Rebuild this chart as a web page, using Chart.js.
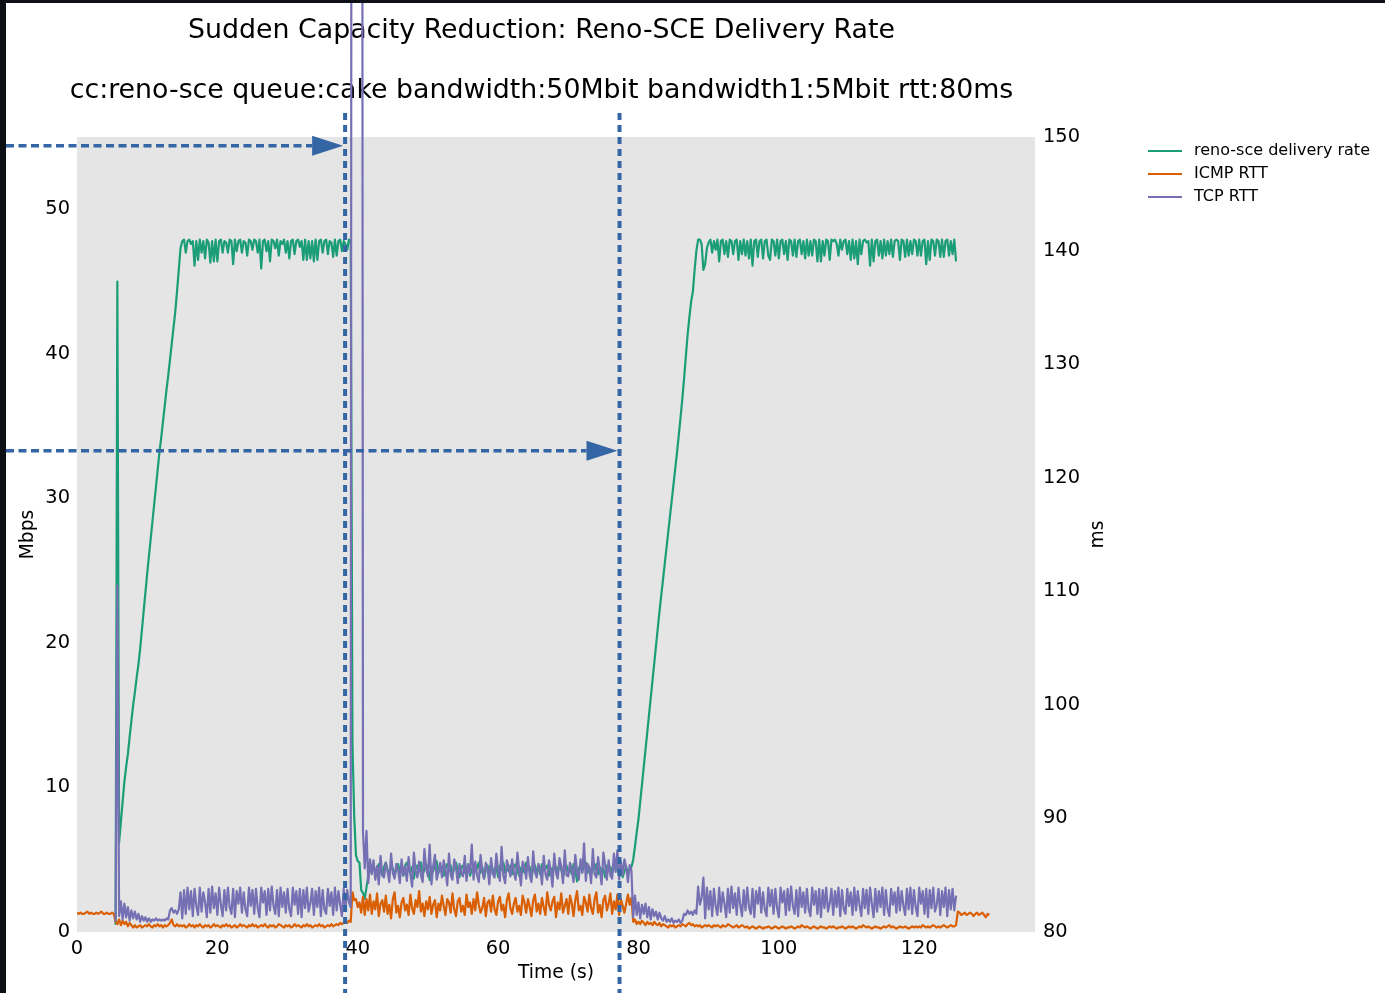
<!DOCTYPE html>
<html>
<head>
<meta charset="utf-8">
<title>Reno-SCE Delivery Rate</title>
<script src="https://cdn.jsdelivr.net/npm/chart.js@4.4.1/dist/chart.umd.min.js"></script>
<style>
  html, body { margin: 0; padding: 0; background: #0d1115; overflow: hidden; }
  #wrap { position: absolute; left: 6px; top: 3px; width: 1379px; height: 990px; background: #fff; }
  canvas { display: block; }
</style>
</head>
<body>
<div id="wrap"><canvas id="rateChart" width="1379" height="990" style="width:1379px;height:990px"></canvas></div>
<script>
// samples every 0.25 s
const STEP = 0.25

// reno-sce delivery rate (Mbps), first sample at 5.5 s
const rateStart = 5.5
const deliveryRate = [
  0.5, 45.0, 6.2, 7.6, 9.0, 10.4, 11.4, 12.3, 13.5, 14.6, 15.7, 16.6, 17.6, 18.5, 19.6, 20.9, 22.2, 23.5, 24.8, 26.0,
  27.2, 28.4, 29.6, 30.8, 32.0, 33.2, 34.2, 35.3, 36.4, 37.5, 38.5, 39.6, 40.7, 41.8, 42.9, 44.3, 45.8, 47.3, 47.8, 47.9,
  // 15.5 s
  47.0, 47.8, 47.9, 47.6, 47.8, 46.1, 47.8, 46.5, 47.9, 47.0, 47.8, 46.6, 47.9, 47.7, 46.3, 47.8, 46.4, 47.9, 46.4, 47.8,
  47.9, 47.0, 47.8, 47.7, 47.0, 47.9, 47.8, 46.2, 47.9, 47.1, 47.8, 47.9, 47.0, 47.8, 47.7, 46.8, 47.9, 47.8, 47.2, 47.9,
  47.8, 47.0, 47.9, 45.9, 47.8, 47.9, 47.1, 47.8, 46.4, 47.9, 47.8, 47.3, 47.9, 46.8, 47.8, 47.6, 47.9, 47.0, 47.8, 46.6,
  47.8, 47.9, 46.9, 47.8, 47.9, 47.4, 47.8, 46.5, 47.9, 46.5, 47.8, 46.6, 47.8, 46.4, 47.9, 46.5, 47.8, 47.9, 47.0, 47.8,
  47.9, 46.9, 47.8, 47.7, 46.7, 47.9, 46.8, 47.8, 47.9, 47.1, 47.8, 47.6, 47.2, 47.9, 47.8,
  // 39.25 s, link drops to 5 Mbit
  13.0, 8.0, 5.3, 4.9, 4.8, 2.9, 2.7, 2.3, 3.1, 3.9, 4.2,
  // 42 s
  4.3, 4.6, 4.1, 4.4, 4.7, 4.2, 3.9, 4.5, 4.8, 4.3, 4.0, 4.6, 4.4, 3.8, 4.5, 4.7, 4.2, 4.4, 3.9, 4.6,
  4.8, 4.3, 4.1, 4.5, 3.7, 4.4, 4.6, 4.2, 4.8, 4.0, 4.3, 4.7, 4.4, 3.6, 4.5, 4.2, 4.6, 4.9, 4.1, 4.3,
  4.5, 3.9, 4.4, 4.7, 4.2, 4.6, 4.0, 4.4, 4.8, 4.3, 3.8, 4.5, 4.6, 4.1, 4.4, 4.7, 3.9, 4.3, 4.6, 4.2,
  4.4, 4.8, 4.1, 4.5, 3.7, 4.3, 4.6, 4.2, 4.7, 4.0, 4.4, 4.5, 3.8, 4.6, 4.3, 4.8, 4.1, 4.4, 4.2, 4.6,
  4.0, 4.5, 4.7, 4.3, 3.9, 4.4, 4.6, 4.1, 4.8, 4.3, 4.5, 3.7, 4.4, 4.6, 4.2, 4.5, 4.0, 4.7, 4.3, 4.4,
  4.6, 3.9, 4.4, 4.2, 4.7, 4.5, 4.1, 4.8, 4.3, 3.8, 4.5, 4.6, 4.2, 4.4, 4.0, 4.7, 4.3, 3.5, 4.4, 4.6,
  4.2, 4.5, 4.8, 4.1, 4.4, 3.9, 4.6, 4.3, 4.7, 4.0, 4.5, 4.2, 4.4, 3.8, 4.6, 4.3, 4.5, 4.1, 4.4, 4.7,
  4.3, 4.0, 4.4, 3.8, 4.2, 4.5, 4.1, 4.3, 4.5,
  // 79.25 s, back to 50 Mbit
  5.0, 5.9, 6.9, 7.8, 9.0, 10.2, 11.4, 12.6, 13.8, 15.0, 16.2, 17.4, 18.6, 19.8, 21.0, 22.2, 23.3, 24.4, 25.5, 26.6,
  27.7, 28.8, 29.9, 31.0, 32.1, 33.2, 34.4, 35.6, 36.9, 38.3, 39.8, 41.3, 42.5, 43.6, 44.3, 45.8, 47.1, 47.9, 47.9, 47.6,
  45.8, 46.2, 47.3, 47.7,
  // 90.25 s
  47.9, 47.0, 47.8, 47.2, 47.9, 46.4, 47.8, 47.9, 46.9, 47.8, 46.7, 47.9, 47.8, 46.9, 47.8, 47.9, 46.5, 47.8, 46.9, 47.9,
  46.8, 47.8, 46.6, 47.9, 46.1, 47.8, 47.9, 46.7, 47.8, 47.9, 46.6, 47.8, 47.9, 46.8, 46.5, 47.9, 47.8, 46.8, 47.9, 46.6,
  47.8, 47.9, 46.9, 47.8, 46.5, 47.9, 47.8, 46.8, 47.9, 46.7, 47.8, 47.9, 46.9, 47.8, 46.6, 47.9, 46.8, 47.8, 46.8, 47.9,
  47.8, 46.4, 47.9, 46.4, 47.8, 46.8, 47.9, 47.8, 46.5, 47.9, 47.8, 47.9, 47.6, 46.8, 47.9, 47.2, 47.8, 47.9, 46.9, 47.8,
  46.5, 47.9, 46.6, 47.8, 46.2, 47.9, 46.9, 47.8, 47.9, 47.7, 47.8, 46.1, 47.9, 46.4, 47.8, 47.9, 46.8, 47.8, 46.6, 47.9,
  46.8, 47.8, 46.9, 47.9, 46.7, 47.8, 47.9, 47.8, 46.5, 47.9, 47.8, 46.7, 47.9, 46.8, 47.8, 46.9, 47.9, 47.8, 46.8, 47.9,
  46.8, 47.8, 47.9, 46.2, 47.8, 46.5, 47.9, 47.8, 46.8, 47.9, 47.8, 46.7, 47.9, 46.7, 47.8, 47.9, 46.8, 47.8, 46.9, 47.9,
  46.4
]

// TCP RTT (ms), first sample at 5.5 s
const tcpStart = 5.5
const tcpRtt = [
  80.9, 110.5, 81.4, 82.7, 81.1, 82.5, 81.3, 82.2, 81.0, 81.9, 81.2, 81.8, 81.1, 81.6, 80.9, 81.4, 81.0, 81.3, 80.9, 81.2,
  80.9, 81.1, 81.0, 81.2, 81.0, 81.1, 81.0, 81.1, 81.0, 81.2, 81.1, 81.9, 82.1, 81.7, 81.9, 81.6, 82.0, 83.5, 81.2, 83.7,
  // 15.5 s
  81.6, 83.9, 82.0, 83.6, 81.4, 83.8, 82.3, 81.5, 83.9, 81.8, 83.5, 82.6, 81.3, 83.8, 81.7, 84.0, 82.1, 83.4, 81.5, 83.9,
  82.4, 81.4, 83.7, 81.9, 83.9, 82.2, 81.6, 83.8, 81.3, 83.6, 82.5, 83.9, 81.7, 83.5, 82.0, 81.4, 83.9, 82.3, 83.7, 81.6,
  83.8, 82.1, 81.3, 83.9, 82.6, 83.6, 81.5, 83.8, 81.9, 84.0, 82.3, 81.6, 83.7, 81.4, 83.9, 82.2, 83.5, 81.7, 83.8, 82.0,
  81.4, 83.9, 82.4, 83.6, 81.6, 83.8, 81.3, 83.7, 82.1, 83.9, 81.8, 82.5, 83.8, 81.5, 83.6, 82.2, 83.9, 81.4, 83.7, 82.0,
  81.6, 83.8, 82.3, 83.5, 81.5, 83.9, 81.9, 83.6, 82.4, 81.4, 83.8, 82.1, 83.7, 82.6, 82.2,
  // 39.25 s, queue fills after the drop
  320, 330, 335, 330, 320, 310, 88.8, 85.6, 88.9, 84.3, 86.4,
  // 42 s
  85.1, 86.3, 84.6, 85.8, 84.2, 86.7, 85.0, 84.8, 86.1, 85.3, 84.4, 86.9, 85.2, 84.7, 86.0, 85.5, 84.3, 86.4, 85.0, 85.8,
  84.5, 86.6, 85.1, 84.0, 87.0, 85.4, 84.8, 86.2, 85.0, 84.4, 87.3, 85.6, 84.9, 87.7, 84.2, 85.8, 86.8, 84.6, 85.3, 86.1,
  84.8, 86.3, 85.5, 84.1, 86.9, 85.0, 84.6, 86.4, 85.7, 84.3, 86.0, 85.2, 84.9, 86.7, 84.5, 85.9, 85.2, 87.7, 84.6, 86.2,
  85.0, 84.4, 86.8, 85.3, 84.7, 86.1, 85.6, 84.2, 86.5, 85.1, 84.8, 86.9, 85.4, 84.5, 87.5, 85.0, 84.3, 86.3, 85.7, 84.9,
  86.4, 85.2, 84.6, 87.0, 85.5, 84.1, 86.2, 85.8, 84.7, 86.6, 85.0, 84.4, 87.1, 85.3, 84.8, 86.0, 85.6, 84.2, 86.7, 85.1,
  84.6, 86.3, 85.4, 84.0, 86.9, 85.2, 84.7, 86.5, 85.8, 84.3, 87.2, 85.0, 84.9, 86.1, 85.5, 84.4, 86.8, 85.3, 84.6, 86.4,
  85.2, 87.8, 84.5, 86.0, 85.7, 84.3, 87.3, 85.1, 84.8, 86.6, 85.4, 84.2, 87.0, 85.9, 84.6, 86.3, 85.0, 84.7, 86.9, 85.3,
  87.2, 84.6, 86.2, 85.0, 86.4, 85.7, 84.4, 85.9, 85.4,
  // 79.25 s
  81.3, 83.2, 81.5, 82.6, 81.2, 82.4, 81.6, 82.5, 81.3, 82.2, 81.1, 82.0, 81.4, 81.8, 81.1, 81.7, 81.2, 81.0, 81.4, 80.9,
  81.1, 80.9, 81.2, 80.8, 81.0, 80.9, 81.1, 80.8, 81.0, 81.6, 81.5, 81.9, 81.6, 81.8, 81.5, 81.9, 81.6, 84.0, 82.4, 83.0,
  // 89.25 s
  84.8, 81.2, 83.9, 82.0, 83.6, 81.4, 83.8, 82.3, 81.5, 83.9, 81.8, 83.5, 82.5, 81.3, 83.8, 81.7, 84.0, 82.1, 83.4, 81.5,
  83.9, 82.4, 81.4, 83.7, 81.9, 83.9, 82.2, 81.6, 83.8, 81.3, 83.6, 82.5, 83.9, 81.7, 83.5, 82.0, 81.4, 83.9, 82.3, 83.7,
  81.6, 83.8, 82.1, 81.3, 83.9, 82.6, 83.6, 81.5, 83.8, 81.9, 84.0, 82.3, 81.6, 83.7, 81.4, 83.9, 82.2, 83.5, 81.7, 83.8,
  82.0, 81.4, 83.9, 82.4, 83.6, 81.6, 83.8, 81.3, 83.7, 82.1, 83.9, 81.8, 82.5, 83.8, 81.5, 83.6, 82.2, 83.9, 81.4, 83.7,
  82.0, 81.6, 83.8, 82.3, 83.5, 81.5, 83.9, 81.9, 83.6, 82.4, 81.4, 83.8, 82.1, 83.7, 81.6, 83.9, 82.5, 81.3, 83.8, 81.8,
  83.6, 82.2, 83.9, 81.5, 83.7, 82.0, 81.4, 83.8, 82.4, 83.5, 81.7, 83.9, 81.9, 83.6, 82.3, 81.5, 83.8, 82.0, 83.9, 81.6,
  83.7, 82.2, 81.4, 83.9, 82.5, 83.6, 81.6, 83.8, 81.3, 83.7, 82.1, 83.9, 81.8, 82.4, 83.8, 81.5, 83.6, 82.2, 83.9, 81.4,
  83.7, 82.0, 83.8, 81.9, 83.2
]

// ICMP RTT (ms), first sample at 0 s
const icmpStart = 0
const icmpRtt = [
  81.7, 81.6, 81.7, 81.6, 81.6, 81.7, 81.8, 81.6, 81.7, 81.6, 81.6, 81.7, 81.6, 81.7, 81.8, 81.6, 81.6, 81.7, 81.6, 81.6,
  81.7, 81.6, 80.9, 80.7, 81.1, 80.6, 81.0, 80.7, 80.9, 80.5, 80.8, 80.6, 80.4, 80.6, 80.4, 80.5, 80.6, 80.4, 80.5, 80.6,
  80.5, 80.7, 80.5, 80.4, 80.6, 80.5, 80.7, 80.5, 80.6, 80.4, 80.6, 80.5, 80.6, 80.8, 81.1, 80.6, 80.5, 80.7, 80.5, 80.6,
  80.5, 80.6, 80.4, 80.5, 80.7, 80.5, 80.6, 80.4, 80.6, 80.5, 80.7, 80.5, 80.4, 80.6, 80.5, 80.6, 80.4, 80.5, 80.7, 80.5,
  80.6, 80.5, 80.4, 80.6, 80.5, 80.7, 80.5, 80.6, 80.4, 80.5, 80.6, 80.4, 80.5, 80.7, 80.5, 80.6, 80.5, 80.4, 80.6, 80.5,
  80.7, 80.5, 80.6, 80.4, 80.5, 80.6, 80.5, 80.7, 80.5, 80.4, 80.6, 80.5, 80.6, 80.4, 80.5, 80.7, 80.6, 80.5, 80.4, 80.6,
  80.5, 80.6, 80.4, 80.5, 80.7, 80.5, 80.6, 80.5, 80.4, 80.6, 80.5, 80.7, 80.5, 80.6, 80.4, 80.5, 80.6, 80.5, 80.7, 80.5,
  80.6, 80.4, 80.5, 80.6, 80.5, 80.7, 80.5, 80.6, 80.7, 80.6, 80.8, 80.7, 80.8, 80.9, 80.8, 81.0, 80.9, 83.5, 82.8, 82.9,
  // 40 s
  82.2, 82.6, 81.7, 83.1, 81.5, 82.9, 81.9, 83.3, 81.6, 82.7, 82.0, 83.4, 81.4, 82.5, 82.8, 81.8, 83.2, 81.6, 82.4, 81.2,
  82.9, 83.5, 81.7, 82.3, 81.3, 82.6, 83.0, 81.9, 82.4, 81.5, 83.3, 82.1, 81.6, 82.8, 82.2, 83.6, 81.8, 82.5, 81.4, 82.7,
  82.0, 83.1, 81.6, 82.4, 82.8, 81.3, 82.5, 81.9, 83.2, 82.3, 81.5, 82.9, 82.6, 81.7, 83.4, 82.0, 81.4, 82.7, 83.0, 81.8,
  82.3, 81.5, 83.3, 82.2, 82.6, 81.6, 82.9, 81.9, 83.5, 82.4, 81.7, 82.1, 83.0, 81.4, 82.6, 82.8, 81.8, 83.2, 82.0, 81.5,
  82.7, 83.1, 81.9, 82.4, 81.3, 82.8, 83.4, 82.1, 81.6, 82.5, 83.0, 81.8, 82.3, 81.5, 83.2, 82.6, 81.7, 82.9, 82.2, 81.4,
  82.8, 83.3, 81.8, 82.5, 81.6, 83.0, 82.2, 81.5, 83.5, 82.4, 81.9, 82.7, 83.1, 81.3, 82.6, 82.0, 83.4, 81.7, 82.3, 82.9,
  81.6, 83.2, 82.5, 81.4, 82.8, 83.6, 81.9, 82.3, 81.5, 83.1, 82.6, 81.8, 83.3, 82.1, 81.6, 82.9, 83.5, 81.7, 82.4, 81.3,
  82.8, 83.2, 81.9, 82.5, 83.4, 81.6, 82.7, 82.0, 83.3, 81.5, 82.9, 82.3, 81.7, 82.5, 83.3, 82.4, 83.0, 80.9, 81.1, 80.7,
  // 80 s
  80.9, 80.7, 81.0, 80.8, 80.6, 80.9, 80.7, 80.8, 80.6, 80.9, 80.7, 80.6, 80.8, 80.5, 80.7, 80.6, 80.5, 80.4, 80.6, 80.5,
  80.6, 80.4, 80.5, 80.6, 80.5, 80.7, 80.6, 80.5, 80.7, 80.8, 80.6, 80.7, 80.5, 80.6, 80.5, 80.6, 80.4, 80.5, 80.6, 80.5,
  80.6, 80.5, 80.4, 80.6, 80.5, 80.6, 80.5, 80.4, 80.6, 80.5, 80.5, 80.7, 80.6, 80.5, 80.4, 80.5, 80.6, 80.4, 80.5, 80.6,
  80.5, 80.4, 80.5, 80.3, 80.4, 80.5, 80.4, 80.3, 80.4, 80.5, 80.4, 80.3, 80.4, 80.4, 80.5, 80.4, 80.3, 80.4, 80.5, 80.4,
  80.3, 80.4, 80.5, 80.4, 80.3, 80.4, 80.4, 80.5, 80.4, 80.3, 80.4, 80.5, 80.4, 80.6, 80.5, 80.4, 80.5, 80.4, 80.3, 80.4,
  80.5, 80.4, 80.3, 80.4, 80.5, 80.4, 80.4, 80.3, 80.4, 80.5, 80.4, 80.5, 80.4, 80.3, 80.4, 80.4, 80.5, 80.4, 80.3, 80.4,
  80.5, 80.4, 80.5, 80.4, 80.3, 80.4, 80.5, 80.4, 80.6, 80.5, 80.4, 80.5, 80.4, 80.3, 80.4, 80.5, 80.4, 80.4, 80.3, 80.4,
  80.5, 80.4, 80.5, 80.6, 80.4, 80.5, 80.4, 80.3, 80.4, 80.5, 80.4, 80.4, 80.5, 80.4, 80.3, 80.4, 80.5, 80.4, 80.5, 80.4,
  80.5, 80.4, 80.6, 80.5, 80.4, 80.5, 80.4, 80.5, 80.6, 80.5, 80.4, 80.5, 80.4, 80.5, 80.6, 80.5, 80.4, 80.5, 80.6, 80.5,
  // 125 s, flow ends
  80.5, 80.6, 81.8, 81.7, 81.5, 81.6, 81.7, 81.5, 81.6, 81.7, 81.6, 81.4, 81.6, 81.7, 81.5, 81.6, 81.7, 81.5, 81.3, 81.6,
  81.5
]

// capacity change markers (s) and the Mbps level each arrow is drawn at
const markerTimes = [38.2, 77.3]
const arrowLevels = [54.4, 33.3]

const seriesNames = ['reno-sce delivery rate', 'ICMP RTT', 'TCP RTT']
const seriesColors = ['#1b9e77', '#d95f02', '#7570b3']
const titleLines = [
  'Sudden Capacity Reduction: Reno-SCE Delivery Rate',
  'cc:reno-sce queue:cake bandwidth:50Mbit bandwidth1:5Mbit rtt:80ms'
]

const FONT = '"DejaVu Sans", Verdana, sans-serif'
const tickFont = { family: FONT, size: 19.4 }

function toPoints(start, values) {
  return values.map((v, i) => ({ x: start + i * STEP, y: v }))
}

const plotBackground = {
  id: 'plotBackground',
  beforeDraw(chart) {
    const { ctx, chartArea: a } = chart
    ctx.save()
    ctx.fillStyle = '#ffffff'
    ctx.fillRect(0, 0, chart.width, chart.height)
    ctx.fillStyle = '#e5e5e5'
    ctx.fillRect(a.left, a.top, a.right - a.left, a.bottom - a.top)
    ctx.restore()
  }
}

// titles, axis names and the legend
const labelText = {
  id: 'labelText',
  beforeDatasetsDraw(chart) {
    const { ctx, chartArea: a } = chart
    ctx.save()
    ctx.fillStyle = '#000'
    ctx.textAlign = 'center'
    ctx.textBaseline = 'middle'
    ctx.font = '26.8px ' + FONT
    ctx.fillText(titleLines[0], 535.5, 28)
    ctx.fillText(titleLines[1], 535.5, 88)

    ctx.font = '18.7px ' + FONT
    ctx.fillText('Time (s)', (a.left + a.right) / 2, a.bottom + 41)
    ctx.save()
    ctx.translate(22, (a.top + a.bottom) / 2)
    ctx.rotate(-Math.PI / 2)
    ctx.fillText('Mbps', 0, 0)
    ctx.restore()
    ctx.save()
    ctx.translate(a.right + 63, (a.top + a.bottom) / 2)
    ctx.rotate(-Math.PI / 2)
    ctx.fillText('ms', 0, 0)
    ctx.restore()

    ctx.font = '16px ' + FONT
    ctx.textAlign = 'left'
    seriesNames.forEach((name, i) => {
      const y = 148 + i * 23
      ctx.strokeStyle = seriesColors[i]
      ctx.lineWidth = 2
      ctx.beginPath()
      ctx.moveTo(1142, y)
      ctx.lineTo(1176, y)
      ctx.stroke()
      ctx.fillText(name, 1188, y)
    })
    ctx.restore()
  }
}

// dashed marker lines and arrows
const markers = {
  id: 'markers',
  afterDatasetsDraw(chart) {
    const { ctx } = chart
    const xs = chart.scales.x
    const ys = chart.scales.y
    ctx.save()
    ctx.strokeStyle = '#3465a4'
    ctx.fillStyle = '#3465a4'
    markerTimes.forEach((t, i) => {
      const px = xs.getPixelForValue(t)
      ctx.lineWidth = 4
      ctx.setLineDash([7, 5])
      ctx.beginPath()
      ctx.moveTo(px, 110)
      ctx.lineTo(px, chart.height)
      ctx.stroke()

      const py = ys.getPixelForValue(arrowLevels[i])
      const tip = px - 2
      ctx.lineWidth = 3.5
      ctx.setLineDash([8, 4.5])
      ctx.beginPath()
      ctx.moveTo(0, py)
      ctx.lineTo(tip - 31, py)
      ctx.stroke()
      ctx.setLineDash([])
      ctx.beginPath()
      ctx.moveTo(tip, py)
      ctx.lineTo(tip - 31, py - 10)
      ctx.lineTo(tip - 31, py + 10)
      ctx.closePath()
      ctx.fill()
    })
    ctx.restore()
  }
}

const lineStyle = {
  pointRadius: 0,
  pointHoverRadius: 0,
  borderWidth: 2.2,
  borderJoinStyle: 'round',
  tension: 0,
  fill: false
}

new Chart(document.getElementById('rateChart').getContext('2d'), {
  type: 'line',
  data: {
    datasets: [
      Object.assign({ label: seriesNames[0], data: toPoints(rateStart, deliveryRate), borderColor: seriesColors[0], yAxisID: 'y', order: 2 }, lineStyle),
      Object.assign({ label: seriesNames[1], data: toPoints(icmpStart, icmpRtt), borderColor: seriesColors[1], yAxisID: 'y1', order: 1 }, lineStyle),
      Object.assign({ label: seriesNames[2], data: toPoints(tcpStart, tcpRtt), borderColor: seriesColors[2], yAxisID: 'y1', order: 0, clip: false }, lineStyle)
    ]
  },
  options: {
    responsive: false,
    animation: false,
    devicePixelRatio: 1,
    parsing: false,
    layout: { padding: { top: 134, left: 0, right: 280, bottom: 21 } },
    plugins: { legend: { display: false }, title: { display: false }, tooltip: { enabled: false } },
    events: [],
    scales: {
      x: {
        type: 'linear', min: 0, max: 136.5,
        grid: { display: false, drawTicks: false }, border: { display: false },
        ticks: { stepSize: 20, includeBounds: false, autoSkip: false, maxRotation: 0, padding: 5, color: '#000', font: tickFont },
        afterFit(s) { s.height = 40 }
      },
      y: {
        type: 'linear', position: 'left', min: 0, max: 55,
        grid: { display: false, drawTicks: false }, border: { display: false },
        ticks: { stepSize: 10, includeBounds: false, padding: 7, color: '#000', font: tickFont },
        afterFit(s) { s.width = 71 }
      },
      y1: {
        type: 'linear', position: 'right', min: 80, max: 150,
        grid: { display: false, drawTicks: false }, border: { display: false },
        ticks: { stepSize: 10, includeBounds: false, padding: 8, color: '#000', font: tickFont },
        afterFit(s) { s.width = 70 }
      }
    }
  },
  plugins: [plotBackground, labelText, markers]
})
</script>
</body>
</html>
